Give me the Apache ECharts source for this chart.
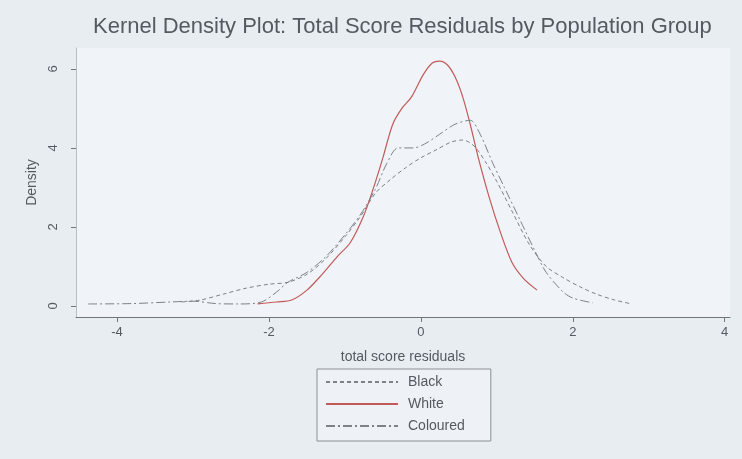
<!DOCTYPE html>
<html>
<head>
<meta charset="utf-8">
<script src="https://cdn.jsdelivr.net/npm/echarts@6/dist/echarts.min.js"></script>
<style>
html,body{margin:0;padding:0;background:#e8edf2;}
#c{width:742px;height:459px;}
</style>
</head>
<body>
<div id="c"></div>
<script>
var seriesNames = ['Black', 'White', 'Coloured'];
var xTicks = [-4, -2, 0, 2, 4];
var yTicks = [0, 2, 4, 6];

var blackData = [[-3.15,0.1],[-2.9,0.15],[-2.6,0.3],[-2.3,0.45],[-2.0,0.55],[-1.75,0.6],[-1.5,0.8],[-1.25,1.2],[-1.0,1.75],[-0.8,2.25],[-0.6,2.85],[-0.4,3.2],[-0.2,3.5],[0,3.75],[0.2,3.95],[0.4,4.15],[0.55,4.2],[0.7,4.05],[0.85,3.65],[1.0,3.15],[1.2,2.4],[1.43,1.55],[1.65,1.0],[1.87,0.72],[2.1,0.48],[2.31,0.3],[2.55,0.15],[2.78,0.05]];

var whiteData = [[-2.15,0.05],[-1.9,0.1],[-1.7,0.15],[-1.5,0.4],[-1.3,0.8],[-1.1,1.25],[-0.93,1.6],[-0.76,2.25],[-0.63,2.95],[-0.5,3.75],[-0.37,4.6],[-0.25,5.0],[-0.12,5.3],[0.03,5.85],[0.15,6.15],[0.25,6.2],[0.35,6.1],[0.45,5.8],[0.55,5.3],[0.65,4.6],[0.75,3.8],[0.9,2.75],[1.05,1.85],[1.2,1.1],[1.35,0.7],[1.53,0.4]];

var colouredData = [[-4.38,0.05],[-3.8,0.06],[-3.3,0.1],[-3.0,0.12],[-2.7,0.06],[-2.4,0.05],[-2.1,0.1],[-1.9,0.35],[-1.75,0.6],[-1.5,0.85],[-1.25,1.25],[-1.0,1.8],[-0.8,2.3],[-0.6,2.95],[-0.45,3.6],[-0.3,4.0],[-0.1,4.0],[0.05,4.1],[0.25,4.35],[0.45,4.6],[0.65,4.7],[0.78,4.35],[0.95,3.6],[1.1,3.0],[1.3,2.2],[1.5,1.4],[1.65,0.85],[1.87,0.36],[2.0,0.2],[2.26,0.08]];

var chart = echarts.init(document.getElementById('c'));
var font = 'Liberation Sans, Arial, sans-serif';
var txt = '#555a60';
chart.setOption({
  backgroundColor: '#e8edf2',
  animation: false,
  title: {
    text: 'Kernel Density Plot: Total Score Residuals by Population Group',
    left: 88, top: 11,
    textStyle: {fontFamily: font, fontSize: 22, fontWeight: 'normal', color: txt}
  },
  grid: {left: 76, right: 12, top: 48, bottom: 142, show: true, backgroundColor: '#f0f3f7', borderWidth: 0},
  legend: {
    data: seriesNames,
    orient: 'vertical',
    left: 317, top: 369,
    itemWidth: 72, itemHeight: 14, itemGap: 8,
    padding: [6, 26, 8, 8],
    backgroundColor: '#eef2f6',
    borderColor: '#8a9096', borderWidth: 1,
    itemStyle: {opacity: 0},
    textStyle: {fontFamily: font, fontSize: 14, color: txt, padding: [0,0,0,5]}
  },
  xAxis: {
    type: 'value', min: -4.54, max: 4.07,
    name: 'total score residuals', nameLocation: 'middle', nameGap: 33,
    nameTextStyle: {fontFamily: font, fontSize: 14, color: txt},
    axisLine: {show: true, onZero: false, lineStyle: {color: '#70767c'}},
    axisTick: {show: true, length: 5, customValues: xTicks, lineStyle: {color: '#70767c'}},
    axisLabel: {customValues: xTicks, margin: 9, fontFamily: font, fontSize: 13, color: txt},
    splitLine: {show: false}
  },
  yAxis: {
    type: 'value', min: -0.28, max: 6.53,
    name: 'Density', nameLocation: 'middle', nameGap: 32,
    nameTextStyle: {fontFamily: font, fontSize: 14, color: txt},
    axisLine: {show: true, onZero: false, lineStyle: {color: '#b8bec4'}},
    axisTick: {show: true, length: 5, customValues: yTicks, lineStyle: {color: '#70767c'}},
    axisLabel: {customValues: yTicks, rotate: 90, margin: 16, fontFamily: font, fontSize: 13, color: txt},
    splitLine: {show: false}
  },
  series: [
    {name: 'Black', type: 'line', data: blackData, symbol: 'none', smooth: 0.3,
     lineStyle: {color: '#7d8288', width: 1, type: [4, 3]}, itemStyle: {color: '#7d8288'}},
    {name: 'White', type: 'line', data: whiteData, symbol: 'none', smooth: 0.3,
     lineStyle: {color: '#c25a5a', width: 1.2, type: 'solid'}, itemStyle: {color: '#c25a5a'}},
    {name: 'Coloured', type: 'line', data: colouredData, symbol: 'none', smooth: 0.3,
     lineStyle: {color: '#7d8288', width: 1, type: [9, 3, 2, 3]}, itemStyle: {color: '#7d8288'}}
  ]
});
</script>
</body>
</html>
